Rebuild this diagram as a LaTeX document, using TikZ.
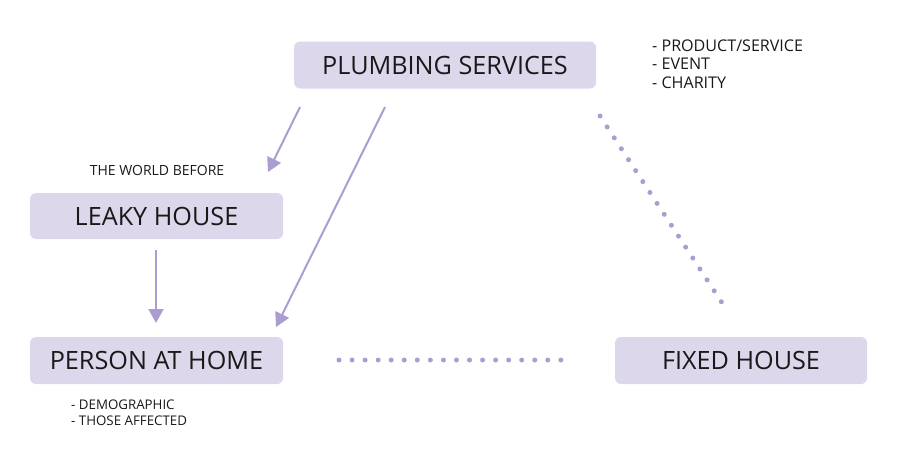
\documentclass[tikz,border=0pt]{standalone}
\usepackage{fontspec}
\setmainfont{Open Sans}
\usetikzlibrary{arrows.meta}

\definecolor{boxfill}{RGB}{221,215,236}
\definecolor{linecol}{RGB}{171,157,208}
\definecolor{textcol}{RGB}{25,25,25}

\tikzset{
  box/.style={fill=boxfill, rounded corners=6pt, minimum width=253pt,
    minimum height=47pt, inner sep=0pt, text=textcol,
    font=\fontsize{25.2}{30}\selectfont},
  arr/.style={draw=linecol, line width=2pt,
    -{Triangle[length=14pt,width=15pt]}},
  dots/.style={draw=linecol, line width=5pt, line cap=round,
    dash pattern=on 0pt off 13.05pt},
  note/.style={inner sep=0pt, align=left, text=textcol}
}

\begin{document}
\begin{tikzpicture}[x=1pt,y=-1pt]
  \useasboundingbox (0,0) rectangle (900,455);

  % boxes
  \node[box, minimum width=302pt] (plumbing) at (445,65) {PLUMBING SERVICES};
  \node[box, minimum height=46pt] (leaky) at (156.5,216) {LEAKY HOUSE};
  \node[box] (person) at (156.5,360.5) {PERSON AT HOME};
  \node[box, minimum width=252pt] (fixed) at (741,360.5) {FIXED HOUSE};

  % notes (base = last line)
  \node[note, anchor=base, font=\fontsize{14}{17}\selectfont] (before)
    at (157,175) {THE WORLD BEFORE};
  \node[note, anchor=base west, font=\fontsize{16.1}{18.6}\selectfont] (kinds)
    at (652,88.5) {- PRODUCT/SERVICE\\- EVENT\\- CHARITY};
  \node[note, anchor=base west, font=\fontsize{13.3}{16}\selectfont] (who)
    at (71,425.5) {- DEMOGRAPHIC\\- THOSE AFFECTED};

  % connector ends
  \coordinate (p1) at (300,107);
  \coordinate (l1) at (268,172);
  \coordinate (p2) at (385,107);
  \coordinate (h1) at (276,327);
  \coordinate (l2) at (156,250);
  \coordinate (h2) at (156,323);
  \coordinate (p3) at (600,116);
  \coordinate (f1) at (721.5,302);
  \coordinate (h3) at (339,360);
  \coordinate (f2) at (562,360);

  \draw[arr] (p1) -- (l1);
  \draw[arr] (p2) -- (h1);
  \draw[arr] (l2) -- (h2);
  \draw[dots] (p3) -- (f1);
  \draw[dots] (h3) -- (f2);
\end{tikzpicture}
\end{document}
